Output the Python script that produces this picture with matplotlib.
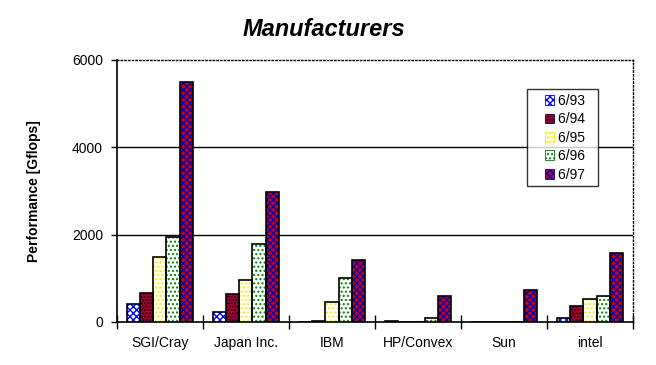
import matplotlib.pyplot as plt
import numpy as np
from matplotlib.legend_handler import HandlerPatch

plt.rcParams['font.family'] = ['Liberation Sans', 'DejaVu Sans']

# values (Gflops)
manufacturers = ['SGI/Cray', 'Japan Inc.', 'IBM', 'HP/Convex', 'Sun', 'intel']
periods = ['6/93', '6/94', '6/95', '6/96', '6/97']
v_6_93 = [410, 230, 0, 20, 0, 90]
v_6_94 = [660, 640, 20, 0, 0, 370]
v_6_95 = [1490, 960, 460, 0, 0, 530]
v_6_96 = [1950, 1790, 1000, 90, 0, 600]
v_6_97 = [5490, 2980, 1420, 600, 730, 1580]
series = [v_6_93, v_6_94, v_6_95, v_6_96, v_6_97]

# (face colour, hatch colour, hatch)
styles = [('white', '#0000ff', 'xxxxx'),
          ('#b00000', '#000080', '.....'),
          ('white', '#ffee00', '....'),
          ('white', '#008000', '....'),
          ('#d00000', '#0000c0', 'xxxxx')]

fig = plt.figure(figsize=(6.56, 3.65), dpi=100)
ax = fig.add_axes([0.178, 0.118, 0.787, 0.718])

x = np.arange(len(manufacturers))
w = 0.154
handles = []
for i, (vals, (fc, hc, hatch)) in enumerate(zip(series, styles)):
    pos = x + (i - 2) * w
    ax.bar(pos, vals, w, color=fc, edgecolor=hc, hatch=hatch, linewidth=0, zorder=3)
    ax.bar(pos, vals, w, facecolor='none', edgecolor='black', linewidth=1.2, zorder=4)
    handles.append(plt.Rectangle((0, 0), 1, 1, facecolor=fc, edgecolor=hc,
                                 hatch=hatch, linewidth=0.6))

ax.set_xlim(-0.5, len(manufacturers) - 0.5)
ax.set_ylim(0, 6000)
ax.set_yticks([0, 2000, 4000, 6000])
ax.set_yticklabels(['0', '2000', '4000', '6000'], fontsize=10)
ax.set_xticks(x)
ax.set_xticklabels(manufacturers, fontsize=10)
ax.tick_params(axis='x', length=0, pad=10)
ax.set_xticks(np.arange(-0.5, len(manufacturers), 1), minor=True)
ax.tick_params(axis='x', which='minor', direction='inout', length=10, width=1)
ax.tick_params(axis='y', direction='out', length=4, width=1, pad=6)

for yv in [2000, 4000]:
    ax.axhline(yv, color='black', linewidth=1, zorder=1)
ax.spines['top'].set_linestyle(':')
ax.spines['right'].set_linestyle(':')
ax.spines['top'].set_linewidth(1)
ax.spines['right'].set_linewidth(1)
ax.spines['left'].set_linewidth(1.2)
ax.spines['bottom'].set_linewidth(1.2)

ax.set_ylabel('Performance [Gflops]', fontsize=10, fontweight='bold', labelpad=22)
fig.text(0.494, 0.918, 'Manufacturers', fontsize=17, fontweight='bold',
         style='italic', ha='center', va='center')


def small_square(legend, orig_handle, xdescent, ydescent, width, height, fontsize):
    s = 7
    return plt.Rectangle((width - s - xdescent, (height - s) / 2 - ydescent), s, s)


leg = ax.legend(handles, [p + '  ' for p in periods], loc='upper left',
                bbox_to_anchor=(0.795, 0.889), borderaxespad=0,
                fontsize=10, frameon=True, fancybox=False, edgecolor='black',
                handlelength=1.6, handleheight=0.7, handletextpad=0.3,
                labelspacing=0.32, borderpad=0.35,
                handler_map={plt.Rectangle: HandlerPatch(patch_func=small_square)})
leg.get_frame().set_linewidth(1)
leg.set_zorder(5)

fig.savefig('out.png', dpi=100)
